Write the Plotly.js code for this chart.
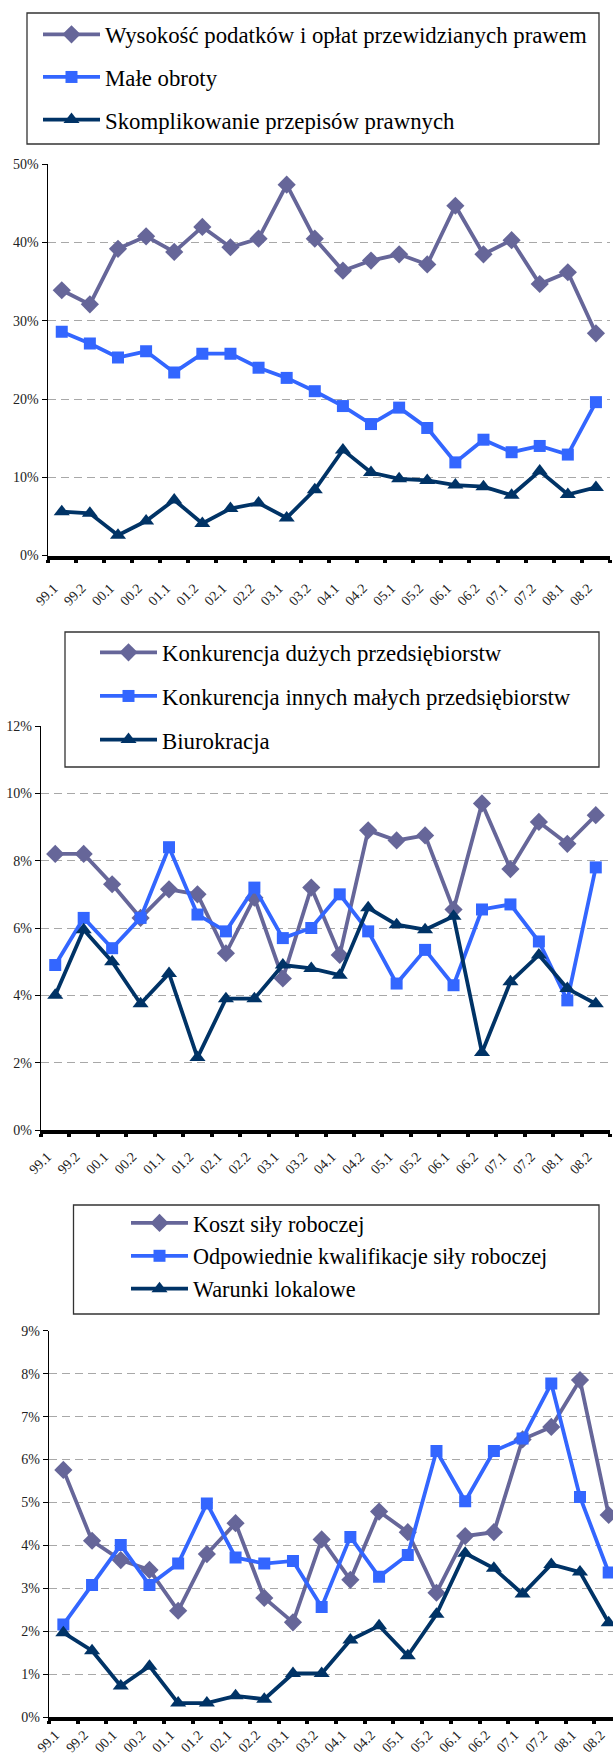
<!DOCTYPE html>
<html>
<head>
<meta charset="utf-8">
<script src="https://cdn.plot.ly/plotly-3.0.1.min.js"></script>
<style>
html,body{margin:0;padding:0;background:#fff;overflow:hidden;}
#chart{width:613px;height:1760px;}
</style>
</head>
<body>
<div id="chart"></div>
<script>
const categories = ['99.1','99.2','00.1','00.2','01.1','01.2','02.1','02.2','03.1','03.2','04.1','04.2','05.1','05.2','06.1','06.2','07.1','07.2','08.1','08.2'];

// Chart 1 (%)
const taxes = [33.9,32.1,39.2,40.8,38.8,42.0,39.4,40.5,47.4,40.5,36.4,37.7,38.5,37.2,44.7,38.5,40.3,34.7,36.2,28.4];
const turnover = [28.6,27.1,25.3,26.1,23.4,25.8,25.8,24.0,22.7,21.0,19.1,16.8,18.9,16.3,11.9,14.8,13.2,14.0,12.9,19.6];
const complexity = [5.6,5.4,2.6,4.4,7.1,4.1,6.0,6.7,4.8,8.4,13.5,10.6,9.8,9.6,9.0,8.8,7.7,10.8,7.8,8.7];

// Chart 2 (%)
const bigCompetition = [8.2,8.2,7.3,6.3,7.15,7.0,5.25,6.9,4.5,7.2,5.2,8.9,8.6,8.75,6.55,9.7,7.75,9.15,8.5,9.35];
const smallCompetition = [4.9,6.3,5.4,6.3,8.4,6.4,5.9,7.2,5.7,6.0,7.0,5.9,4.35,5.35,4.3,6.55,6.7,5.6,3.85,7.8];
const bureaucracy = [4.0,5.95,5.0,3.75,4.65,2.15,3.9,3.9,4.9,4.8,4.6,6.6,6.1,5.95,6.35,2.3,4.4,5.2,4.2,3.75];

// Chart 3 (%)
const laborCost = [5.76,4.11,3.66,3.43,2.48,3.80,4.52,2.78,2.21,4.14,3.20,4.79,4.31,2.90,4.22,4.31,6.47,6.76,7.85,4.71];
const qualifications = [2.16,3.08,4.01,3.08,3.58,4.98,3.72,3.58,3.64,2.57,4.20,3.27,3.78,6.20,5.03,6.20,6.49,7.77,5.13,3.37];
const premises = [1.97,1.55,0.73,1.19,0.33,0.33,0.50,0.42,1.02,1.02,1.80,2.13,1.43,2.40,3.82,3.47,2.87,3.56,3.38,2.20];

const names1 = ['Wysokość podatków i opłat przewidzianych prawem','Małe obroty','Skomplikowanie przepisów prawnych'];
const names2 = ['Konkurencja dużych przedsiębiorstw','Konkurencja innych małych przedsiębiorstw','Biurokracja'];
const names3 = ['Koszt siły roboczej','Odpowiednie kwalifikacje siły roboczej','Warunki lokalowe'];

const C1 = '#666699', C2 = '#3366FF', C3 = '#003366';
const SYM = ['diamond','square','triangle-up'];
const SIZES = [14,12,14];
const COLORS = [C1,C2,C3];
const FONT = 'Liberation Serif, Times New Roman, serif';
const W = 613, H = 1760;

function mk(y, i, name, ax, leg){
  return {
    type:'scatter', mode:'lines+markers', x:categories, y:y, name:name,
    xaxis:'x'+(ax===1?'':ax), yaxis:'y'+(ax===1?'':ax),
    legend: leg, legendgroup: leg+'_'+i,
    line:{color:COLORS[i], width:3.8},
    marker:{symbol:SYM[i], size:SIZES[i], color:COLORS[i], line:{width:0}},
    cliponaxis:true, hoverinfo:'skip'
  };
}

const data = [
  mk(taxes,0,names1[0],1,'legend'), mk(turnover,1,names1[1],1,'legend'), mk(complexity,2,names1[2],1,'legend'),
  mk(bigCompetition,0,names2[0],2,'legend2'), mk(smallCompetition,1,names2[1],2,'legend2'), mk(bureaucracy,2,names2[2],2,'legend2'),
  mk(laborCost,0,names3[0],3,'legend3'), mk(qualifications,1,names3[1],3,'legend3'), mk(premises,2,names3[2],3,'legend3')
];

function px(x){return x/W;}
function py(y){return 1 - y/H;}

function xax(d0,d1,anchor,range,standoff){
  return {
    type:'category', domain:[d0,d1], anchor:anchor, range:range,
    showline:true, linecolor:'#000', linewidth:4,
    ticks:'outside', tickson:'boundaries', ticklen:3, tickwidth:4, tickcolor:'#000',
    showgrid:false, zeroline:false, tickangle:-45,
    tickfont:{family:FONT, size:14, color:'#222'},
    ticklabelshift:-8, ticklabelstandoff:standoff, fixedrange:true
  };
}
function yax(d0,d1,anchor,max,dt){
  return {
    domain:[d0,d1], anchor:anchor, range:[0,max], dtick:dt, tick0:0,
    ticksuffix:'%', showline:true, linecolor:'#000', linewidth:1.2,
    ticks:'outside', ticklen:5, tickcolor:'#000', tickwidth:1,
    showgrid:true, gridcolor:'#a8a8a8', gridwidth:1, griddash:'8px,5px',
    zeroline:false, tickfont:{family:FONT, size:14, color:'#222'}, fixedrange:true
  };
}
function leg(x,y,size,gap){
  return {x:px(x), y:py(y), xanchor:'left', yanchor:'top', bgcolor:'rgba(0,0,0,0)', borderwidth:0,
    font:{family:FONT, size:size, color:'#000'}, itemwidth:57, traceorder:'grouped', tracegroupgap:gap,
    itemclick:false, itemdoubleclick:false};
}
function box(x0,y0,x1,y1){
  return {type:'rect', xref:'paper', yref:'paper', x0:px(x0), x1:px(x1), y0:py(y1), y1:py(y0),
    line:{color:'#333', width:1.3}, fillcolor:'#fff', layer:'above'};
}

const layout = {
  width:W, height:H, margin:{l:0,r:0,t:0,b:0}, paper_bgcolor:'#fff', plot_bgcolor:'#fff',
  font:{family:FONT}, showlegend:true,
  xaxis: xax(px(47.7), px(610), 'y', [-0.5,19.5], 15),
  yaxis: yax(py(555.5), py(164.3), 'x', 50, 10),
  xaxis2: xax(px(41), px(610), 'y2', [-0.5,19.5], 9),
  yaxis2: yax(py(1130), py(726), 'x2', 12, 2),
  xaxis3: xax(px(49), 1, 'y3', [-0.5,19.15], 0),
  yaxis3: yax(py(1717.3), py(1330.7), 'x3', 9, 1),
  legend: leg(38, 13, 22.8, 10),
  legend2: leg(95, 631, 22.8, 11),
  legend3: leg(126, 1202, 22.2, 1),
  shapes:[ box(27,13,599,144), box(65,632,599,767), box(73.5,1205,599,1314) ]
};

Plotly.newPlot('chart', data, layout, {staticPlot:true, displayModeBar:false});
</script>
</body>
</html>
